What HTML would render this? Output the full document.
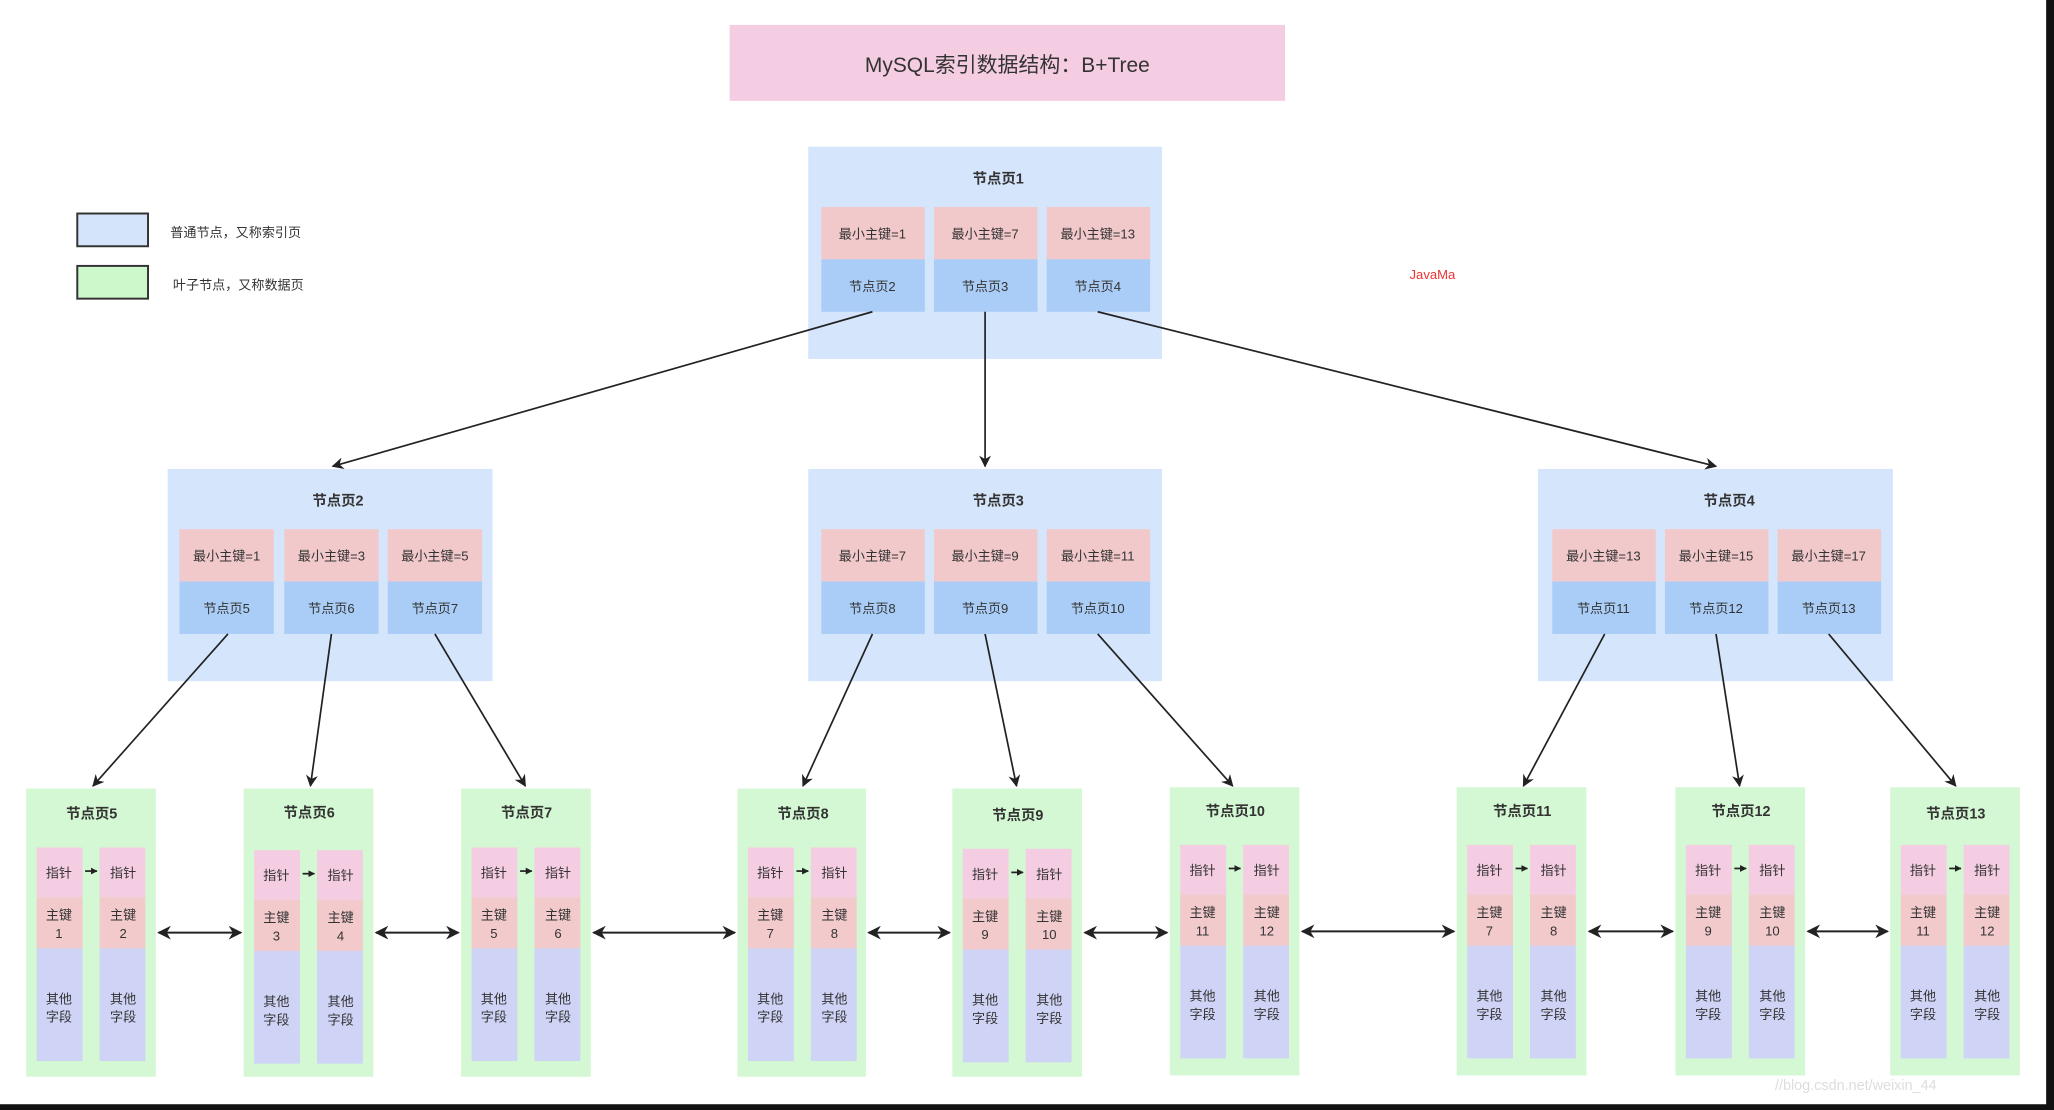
<!DOCTYPE html>
<html><head><meta charset="utf-8"><style>
html,body{margin:0;padding:0;background:#fff;}
svg{display:block;}
text{font-family:"Liberation Sans","Noto Sans CJK SC",sans-serif;fill:#333;}
.c{font-size:10px;text-anchor:middle;}
.t{font-size:11px;font-weight:bold;text-anchor:middle;}
</style></head><body>
<svg width="2054" height="1110" viewBox="0 0 1568 847.4" preserveAspectRatio="none" xmlns="http://www.w3.org/2000/svg">
<defs>
<marker id="a" viewBox="0 0 10 10" refX="9" refY="5" markerWidth="7" markerHeight="7" orient="auto-start-reverse"><path d="M0,0 L10,5 L0,10 L3,5 z" fill="#222"/></marker>
<marker id="s" viewBox="0 0 10 10" refX="9" refY="5" markerWidth="4" markerHeight="4" orient="auto"><path d="M0,0 L10,5 L0,10 z" fill="#222"/></marker>
<g id="col">
<rect x="0" y="0" width="35" height="38" fill="#f5cde2"/>
<rect x="0" y="38" width="35" height="39" fill="#f2cacc"/>
<rect x="0" y="77" width="35" height="86" fill="#cfd4f6"/>
</g>
</defs>
<rect width="1568" height="847.4" fill="#fff"/>
<!-- title -->
<rect x="557" y="19" width="424" height="58" fill="#f5cde2"/>
<text x="769" y="55" style="font-size:16px;text-anchor:middle">MySQL索引数据结构：B+Tree</text>
<!-- legend -->
<rect x="59" y="163" width="54" height="25" fill="#d4e5fb" stroke="#333" stroke-width="1.5"/>
<text x="130" y="181" style="font-size:10px">普通节点，又称索引页</text>
<rect x="59" y="203" width="54" height="25" fill="#ccf8cc" stroke="#333" stroke-width="1.5"/>
<text x="132" y="221" style="font-size:10px">叶子节点，又称数据页</text>
<text x="1076" y="213" style="font-size:10px;fill:#e33">JavaMa</text>

<!-- index nodes -->
<rect x="617" y="112" width="270" height="162" fill="#d5e5fb"/>
<text class="t" x="762" y="140">节点页1</text>
<rect x="627" y="158" width="79" height="40" fill="#f2c9cb"/><rect x="627" y="198" width="79" height="40" fill="#a9cdf6"/>
<rect x="713" y="158" width="79" height="40" fill="#f2c9cb"/><rect x="713" y="198" width="79" height="40" fill="#a9cdf6"/>
<rect x="799" y="158" width="79" height="40" fill="#f2c9cb"/><rect x="799" y="198" width="79" height="40" fill="#a9cdf6"/>
<text class="c" x="666" y="182">最小主键=1</text><text class="c" x="752" y="182">最小主键=7</text><text class="c" x="838" y="182">最小主键=13</text>
<text class="c" x="666" y="222">节点页2</text><text class="c" x="752" y="222">节点页3</text><text class="c" x="838" y="222">节点页4</text>

<rect x="128" y="358" width="248" height="162" fill="#d5e5fb"/>
<text class="t" x="258" y="386">节点页2</text>
<rect x="137" y="404" width="72" height="40" fill="#f2c9cb"/><rect x="137" y="444" width="72" height="40" fill="#a9cdf6"/>
<rect x="217" y="404" width="72" height="40" fill="#f2c9cb"/><rect x="217" y="444" width="72" height="40" fill="#a9cdf6"/>
<rect x="296" y="404" width="72" height="40" fill="#f2c9cb"/><rect x="296" y="444" width="72" height="40" fill="#a9cdf6"/>
<text class="c" x="173" y="428">最小主键=1</text><text class="c" x="253" y="428">最小主键=3</text><text class="c" x="332" y="428">最小主键=5</text>
<text class="c" x="173" y="468">节点页5</text><text class="c" x="253" y="468">节点页6</text><text class="c" x="332" y="468">节点页7</text>

<rect x="617" y="358" width="270" height="162" fill="#d5e5fb"/>
<text class="t" x="762" y="386">节点页3</text>
<rect x="627" y="404" width="79" height="40" fill="#f2c9cb"/><rect x="627" y="444" width="79" height="40" fill="#a9cdf6"/>
<rect x="713" y="404" width="79" height="40" fill="#f2c9cb"/><rect x="713" y="444" width="79" height="40" fill="#a9cdf6"/>
<rect x="799" y="404" width="79" height="40" fill="#f2c9cb"/><rect x="799" y="444" width="79" height="40" fill="#a9cdf6"/>
<text class="c" x="666" y="428">最小主键=7</text><text class="c" x="752" y="428">最小主键=9</text><text class="c" x="838" y="428">最小主键=11</text>
<text class="c" x="666" y="468">节点页8</text><text class="c" x="752" y="468">节点页9</text><text class="c" x="838" y="468">节点页10</text>

<rect x="1174" y="358" width="271" height="162" fill="#d5e5fb"/>
<text class="t" x="1320" y="386">节点页4</text>
<rect x="1185" y="404" width="79" height="40" fill="#f2c9cb"/><rect x="1185" y="444" width="79" height="40" fill="#a9cdf6"/>
<rect x="1271" y="404" width="79" height="40" fill="#f2c9cb"/><rect x="1271" y="444" width="79" height="40" fill="#a9cdf6"/>
<rect x="1357" y="404" width="79" height="40" fill="#f2c9cb"/><rect x="1357" y="444" width="79" height="40" fill="#a9cdf6"/>
<text class="c" x="1224" y="428">最小主键=13</text><text class="c" x="1310" y="428">最小主键=15</text><text class="c" x="1396" y="428">最小主键=17</text>
<text class="c" x="1224" y="468">节点页11</text><text class="c" x="1310" y="468">节点页12</text><text class="c" x="1396" y="468">节点页13</text>

<!-- tree arrows -->
<g stroke="#222" stroke-width="1.3" fill="none" marker-end="url(#a)">
<line x1="666" y1="238" x2="254" y2="356"/>
<line x1="752" y1="238" x2="752" y2="356"/>
<line x1="838" y1="238" x2="1310" y2="356"/>
<line x1="174" y1="484" x2="71" y2="600"/>
<line x1="253" y1="484" x2="237" y2="600"/>
<line x1="332" y1="484" x2="401" y2="600"/>
<line x1="666" y1="484" x2="613" y2="600"/>
<line x1="752" y1="484" x2="776" y2="600"/>
<line x1="838" y1="484" x2="941" y2="600"/>
<line x1="1225" y1="484" x2="1163" y2="600"/>
<line x1="1310" y1="484" x2="1328" y2="600"/>
<line x1="1396" y1="484" x2="1493" y2="600"/>
</g>
<!-- leaf double arrows -->
<g stroke="#222" stroke-width="1.5" fill="none" marker-start="url(#a)" marker-end="url(#a)">
<line x1="121" y1="712" x2="184" y2="712"/>
<line x1="287" y1="712" x2="350" y2="712"/>
<line x1="453" y1="712" x2="561" y2="712"/>
<line x1="663" y1="712" x2="725" y2="712"/>
<line x1="828" y1="712" x2="891" y2="712"/>
<line x1="994" y1="711" x2="1110" y2="711"/>
<line x1="1213" y1="711" x2="1277" y2="711"/>
<line x1="1380" y1="711" x2="1441" y2="711"/>
</g>

<!-- leaves -->
<g transform="translate(20,0)"><rect y="602" width="99" height="220" fill="#d3f8d3"/><text class="t" x="50" y="625">节点页5</text><use href="#col" x="8" y="647"/><use href="#col" x="56" y="647"/><line x1="45" y1="665" x2="54" y2="665" stroke="#222" stroke-width="1.3" marker-end="url(#s)"/><text class="c" x="25" y="670">指针</text><text class="c" x="74" y="670">指针</text><text class="c" x="25" y="702">主键</text><text class="c" x="74" y="702">主键</text><text class="c" x="25" y="716">1</text><text class="c" x="74" y="716">2</text><text class="c" x="25" y="766">其他</text><text class="c" x="74" y="766">其他</text><text class="c" x="25" y="780">字段</text><text class="c" x="74" y="780">字段</text></g>
<g transform="translate(186,0)"><rect y="602" width="99" height="220" fill="#d3f8d3"/><text class="t" x="50" y="624">节点页6</text><use href="#col" x="8" y="649"/><use href="#col" x="56" y="649"/><line x1="45" y1="667" x2="54" y2="667" stroke="#222" stroke-width="1.3" marker-end="url(#s)"/><text class="c" x="25" y="672">指针</text><text class="c" x="74" y="672">指针</text><text class="c" x="25" y="704">主键</text><text class="c" x="74" y="704">主键</text><text class="c" x="25" y="718">3</text><text class="c" x="74" y="718">4</text><text class="c" x="25" y="768">其他</text><text class="c" x="74" y="768">其他</text><text class="c" x="25" y="782">字段</text><text class="c" x="74" y="782">字段</text></g>
<g transform="translate(352,0)"><rect y="602" width="99" height="220" fill="#d3f8d3"/><text class="t" x="50" y="624">节点页7</text><use href="#col" x="8" y="647"/><use href="#col" x="56" y="647"/><line x1="45" y1="665" x2="54" y2="665" stroke="#222" stroke-width="1.3" marker-end="url(#s)"/><text class="c" x="25" y="670">指针</text><text class="c" x="74" y="670">指针</text><text class="c" x="25" y="702">主键</text><text class="c" x="74" y="702">主键</text><text class="c" x="25" y="716">5</text><text class="c" x="74" y="716">6</text><text class="c" x="25" y="766">其他</text><text class="c" x="74" y="766">其他</text><text class="c" x="25" y="780">字段</text><text class="c" x="74" y="780">字段</text></g>
<g transform="translate(563,0)"><rect y="602" width="98" height="220" fill="#d3f8d3"/><text class="t" x="50" y="625">节点页8</text><use href="#col" x="8" y="647"/><use href="#col" x="56" y="647"/><line x1="45" y1="665" x2="54" y2="665" stroke="#222" stroke-width="1.3" marker-end="url(#s)"/><text class="c" x="25" y="670">指针</text><text class="c" x="74" y="670">指针</text><text class="c" x="25" y="702">主键</text><text class="c" x="74" y="702">主键</text><text class="c" x="25" y="716">7</text><text class="c" x="74" y="716">8</text><text class="c" x="25" y="766">其他</text><text class="c" x="74" y="766">其他</text><text class="c" x="25" y="780">字段</text><text class="c" x="74" y="780">字段</text></g>
<g transform="translate(727,0)"><rect y="602" width="99" height="220" fill="#d3f8d3"/><text class="t" x="50" y="626">节点页9</text><use href="#col" x="8" y="648"/><use href="#col" x="56" y="648"/><line x1="45" y1="666" x2="54" y2="666" stroke="#222" stroke-width="1.3" marker-end="url(#s)"/><text class="c" x="25" y="671">指针</text><text class="c" x="74" y="671">指针</text><text class="c" x="25" y="703">主键</text><text class="c" x="74" y="703">主键</text><text class="c" x="25" y="717">9</text><text class="c" x="74" y="717">10</text><text class="c" x="25" y="767">其他</text><text class="c" x="74" y="767">其他</text><text class="c" x="25" y="781">字段</text><text class="c" x="74" y="781">字段</text></g>
<g transform="translate(893,0)"><rect y="601" width="99" height="220" fill="#d3f8d3"/><text class="t" x="50" y="623">节点页10</text><use href="#col" x="8" y="645"/><use href="#col" x="56" y="645"/><line x1="45" y1="663" x2="54" y2="663" stroke="#222" stroke-width="1.3" marker-end="url(#s)"/><text class="c" x="25" y="668">指针</text><text class="c" x="74" y="668">指针</text><text class="c" x="25" y="700">主键</text><text class="c" x="74" y="700">主键</text><text class="c" x="25" y="714">11</text><text class="c" x="74" y="714">12</text><text class="c" x="25" y="764">其他</text><text class="c" x="74" y="764">其他</text><text class="c" x="25" y="778">字段</text><text class="c" x="74" y="778">字段</text></g>
<g transform="translate(1112,0)"><rect y="601" width="99" height="220" fill="#d3f8d3"/><text class="t" x="50" y="623">节点页11</text><use href="#col" x="8" y="645"/><use href="#col" x="56" y="645"/><line x1="45" y1="663" x2="54" y2="663" stroke="#222" stroke-width="1.3" marker-end="url(#s)"/><text class="c" x="25" y="668">指针</text><text class="c" x="74" y="668">指针</text><text class="c" x="25" y="700">主键</text><text class="c" x="74" y="700">主键</text><text class="c" x="25" y="714">7</text><text class="c" x="74" y="714">8</text><text class="c" x="25" y="764">其他</text><text class="c" x="74" y="764">其他</text><text class="c" x="25" y="778">字段</text><text class="c" x="74" y="778">字段</text></g>
<g transform="translate(1279,0)"><rect y="601" width="99" height="220" fill="#d3f8d3"/><text class="t" x="50" y="623">节点页12</text><use href="#col" x="8" y="645"/><use href="#col" x="56" y="645"/><line x1="45" y1="663" x2="54" y2="663" stroke="#222" stroke-width="1.3" marker-end="url(#s)"/><text class="c" x="25" y="668">指针</text><text class="c" x="74" y="668">指针</text><text class="c" x="25" y="700">主键</text><text class="c" x="74" y="700">主键</text><text class="c" x="25" y="714">9</text><text class="c" x="74" y="714">10</text><text class="c" x="25" y="764">其他</text><text class="c" x="74" y="764">其他</text><text class="c" x="25" y="778">字段</text><text class="c" x="74" y="778">字段</text></g>
<g transform="translate(1443,0)"><rect y="601" width="99" height="220" fill="#d3f8d3"/><text class="t" x="50" y="625">节点页13</text><use href="#col" x="8" y="645"/><use href="#col" x="56" y="645"/><line x1="45" y1="663" x2="54" y2="663" stroke="#222" stroke-width="1.3" marker-end="url(#s)"/><text class="c" x="25" y="668">指针</text><text class="c" x="74" y="668">指针</text><text class="c" x="25" y="700">主键</text><text class="c" x="74" y="700">主键</text><text class="c" x="25" y="714">11</text><text class="c" x="74" y="714">12</text><text class="c" x="25" y="764">其他</text><text class="c" x="74" y="764">其他</text><text class="c" x="25" y="778">字段</text><text class="c" x="74" y="778">字段</text></g>

<text x="1355" y="832" style="font-size:11px;fill:#ddd">//blog.csdn.net/weixin_44</text>
<!-- dark borders -->
<rect x="0" y="843" width="1568" height="5" fill="#111"/>
<rect x="1562" y="0" width="6" height="848" fill="#111"/>
</svg>
</body></html>
